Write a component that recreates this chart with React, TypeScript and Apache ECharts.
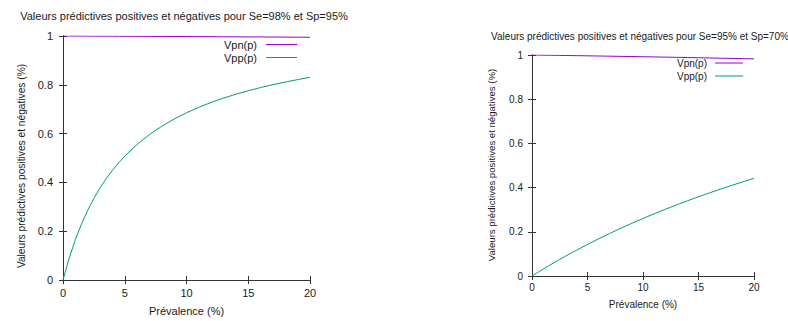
import React, { useEffect, useRef } from "react";
import * as echarts from "echarts";

// Prévalence (%) sample points
const prevalence = [0, 0.5, 1, 1.5, 2, 2.5, 3, 3.5, 4, 4.5, 5, 6, 7, 8, 9, 10, 11, 12, 13, 14, 15, 16, 17, 18, 19, 20];

// Left chart: Se=98%, Sp=95%
const vpnLeft = [1, 0.99989, 0.99979, 0.99968, 0.99957, 0.99946, 0.99935, 0.99924, 0.99912, 0.99901, 0.9989, 0.99866, 0.99842, 0.99817, 0.99792, 0.99767, 0.9974, 0.99714, 0.99686, 0.99658, 0.9963, 0.99601, 0.99571, 0.9954, 0.99509, 0.99476];
const vppLeft = [0, 0.0897, 0.165, 0.2299, 0.2857, 0.3345, 0.3774, 0.4155, 0.4495, 0.4801, 0.5078, 0.5558, 0.596, 0.6302, 0.6597, 0.6853, 0.7078, 0.7277, 0.7455, 0.7614, 0.7757, 0.7887, 0.8006, 0.8114, 0.8213, 0.8305];

// Right chart: Se=95%, Sp=70%
const vpnRight = [1, 0.99964, 0.99928, 0.99891, 0.99854, 0.99817, 0.9978, 0.99742, 0.99703, 0.99665, 0.99625, 0.99546, 0.99465, 0.99383, 0.99299, 0.99213, 0.99125, 0.99035, 0.98944, 0.98851, 0.98755, 0.98658, 0.98558, 0.98456, 0.98352, 0.98246];
const vppRight = [0, 0.01566, 0.031, 0.046, 0.0607, 0.0751, 0.0892, 0.103, 0.1166, 0.1298, 0.1429, 0.1681, 0.1925, 0.2159, 0.2385, 0.2603, 0.2813, 0.3016, 0.3212, 0.3402, 0.3585, 0.3762, 0.3934, 0.4101, 0.4262, 0.4419];

const seriesNames = ["Vpn(p)", "Vpp(p)"];
const titles = [
  "Valeurs prédictives positives et négatives pour Se=98% et Sp=95%",
  "Valeurs prédictives positives et négatives pour Se=95% et Sp=70%",
];
const xName = "Prévalence (%)";
const yName = "Valeurs prédictives positives et négatives (%)";

const FONT = "Liberation Sans, Arial, sans-serif";
const TXT = "#1a1a1a";
const AXIS = "#333";
const C_VPN = "#9400d3";
const C_VPP = "#009e73";

const pairs = (ys: number[]) => prevalence.map((x, i) => [x, ys[i]]);

export default function App() {
  const ref = useRef<HTMLDivElement>(null);
  useEffect(() => {
    if (!ref.current) return;
    const chart = echarts.init(ref.current, undefined, { renderer: "svg" });

    const grids = [
      { left: 63, top: 36, width: 247, height: 245 },
      { left: 532, top: 55, width: 222, height: 221 },
    ];
    const fs = [11, 10];

    const xAxes: any[] = [];
    const yAxes: any[] = [];
    grids.forEach((_, g) => {
      const common = {
        gridIndex: g,
        type: "value",
        axisLine: { show: true, lineStyle: { color: AXIS, width: 1 } },
        axisTick: { show: true, inside: true, length: 4, lineStyle: { color: AXIS } },
        splitLine: { show: false },
      };
      xAxes.push({
        ...common,
        position: "bottom",
        min: 0,
        max: 20,
        interval: 5,
        name: xName,
        nameLocation: "middle",
        nameGap: g === 0 ? 25 : 23,
        nameTextStyle: { fontFamily: FONT, fontSize: fs[g], color: TXT, verticalAlign: "top" },
        axisLabel: { margin: g === 0 ? 7 : 6, fontFamily: FONT, fontSize: fs[g], color: TXT },
      });
      xAxes.push({
        ...common,
        position: "top",
        min: 0,
        max: 20,
        interval: 5,
        axisLabel: { show: false },
      });
      yAxes.push({
        ...common,
        position: "left",
        min: 0,
        max: 1,
        interval: 0.2,
        axisLabel: { margin: g === 0 ? 10 : 9, fontFamily: FONT, fontSize: fs[g], color: TXT },
      });
      yAxes.push({
        ...common,
        position: "right",
        min: 0,
        max: 1,
        interval: 0.2,
        axisLabel: { show: false },
      });
    });

    const mk = (name: string, data: number[], g: number, color: string) => ({
      name,
      type: "line",
      xAxisIndex: g * 2,
      yAxisIndex: g * 2,
      data: pairs(data),
      showSymbol: false,
      symbol: "none",
      color,
      itemStyle: { color },
      lineStyle: { color, width: 1 },
      clip: true,
    });

    chart.setOption({
      animation: false,
      backgroundColor: "#fff",
      grid: grids,
      xAxis: xAxes,
      yAxis: yAxes,
      legend: [
        {
          orient: "vertical",
          right: 491,
          top: 38,
          padding: 0,
          align: "right",
          icon: "rect",
          itemWidth: 31,
          itemHeight: 1,
          itemGap: 0,
          selectedMode: false,
          data: seriesNames,
          textStyle: { fontFamily: FONT, fontSize: 11, color: TXT, lineHeight: 13, padding: [0, 4, 0, 0] },
        },
        {
          orient: "vertical",
          right: 45,
          top: 57,
          padding: 0,
          align: "right",
          icon: "rect",
          itemWidth: 28,
          itemHeight: 1,
          itemGap: 1,
          selectedMode: false,
          data: seriesNames,
          textStyle: { fontFamily: FONT, fontSize: 10, color: TXT, lineHeight: 12, padding: [0, 3, 0, 0] },
        },
      ],
      series: [
        mk(seriesNames[0], vpnLeft, 0, C_VPN),
        mk(seriesNames[1], vppLeft, 0, C_VPP),
        mk(seriesNames[0], vpnRight, 1, C_VPN),
        mk(seriesNames[1], vppRight, 1, C_VPP),
      ],
      graphic: [
        {
          type: "text",
          x: 184,
          y: 16,
          style: { text: titles[0], fontFamily: FONT, fontSize: 11, fill: TXT, textAlign: "center", textVerticalAlign: "middle" },
        },
        {
          type: "text",
          x: 640,
          y: 36,
          style: { text: titles[1], fontFamily: FONT, fontSize: 10, fill: TXT, textAlign: "center", textVerticalAlign: "middle" },
        },
        {
          type: "text",
          x: 21,
          y: 166,
          rotation: Math.PI / 2,
          style: { text: yName, fontFamily: FONT, fontSize: 10.2, fill: TXT, textAlign: "center", textVerticalAlign: "middle" },
        },
        {
          type: "text",
          x: 491,
          y: 165,
          rotation: Math.PI / 2,
          style: { text: yName, fontFamily: FONT, fontSize: 9.6, fill: TXT, textAlign: "center", textVerticalAlign: "middle" },
        },
      ],
    });
    return () => chart.dispose();
  }, []);
  return <div ref={ref} style={{ position: "fixed", left: 0, top: 0, width: 788, height: 321 }} />;
}
